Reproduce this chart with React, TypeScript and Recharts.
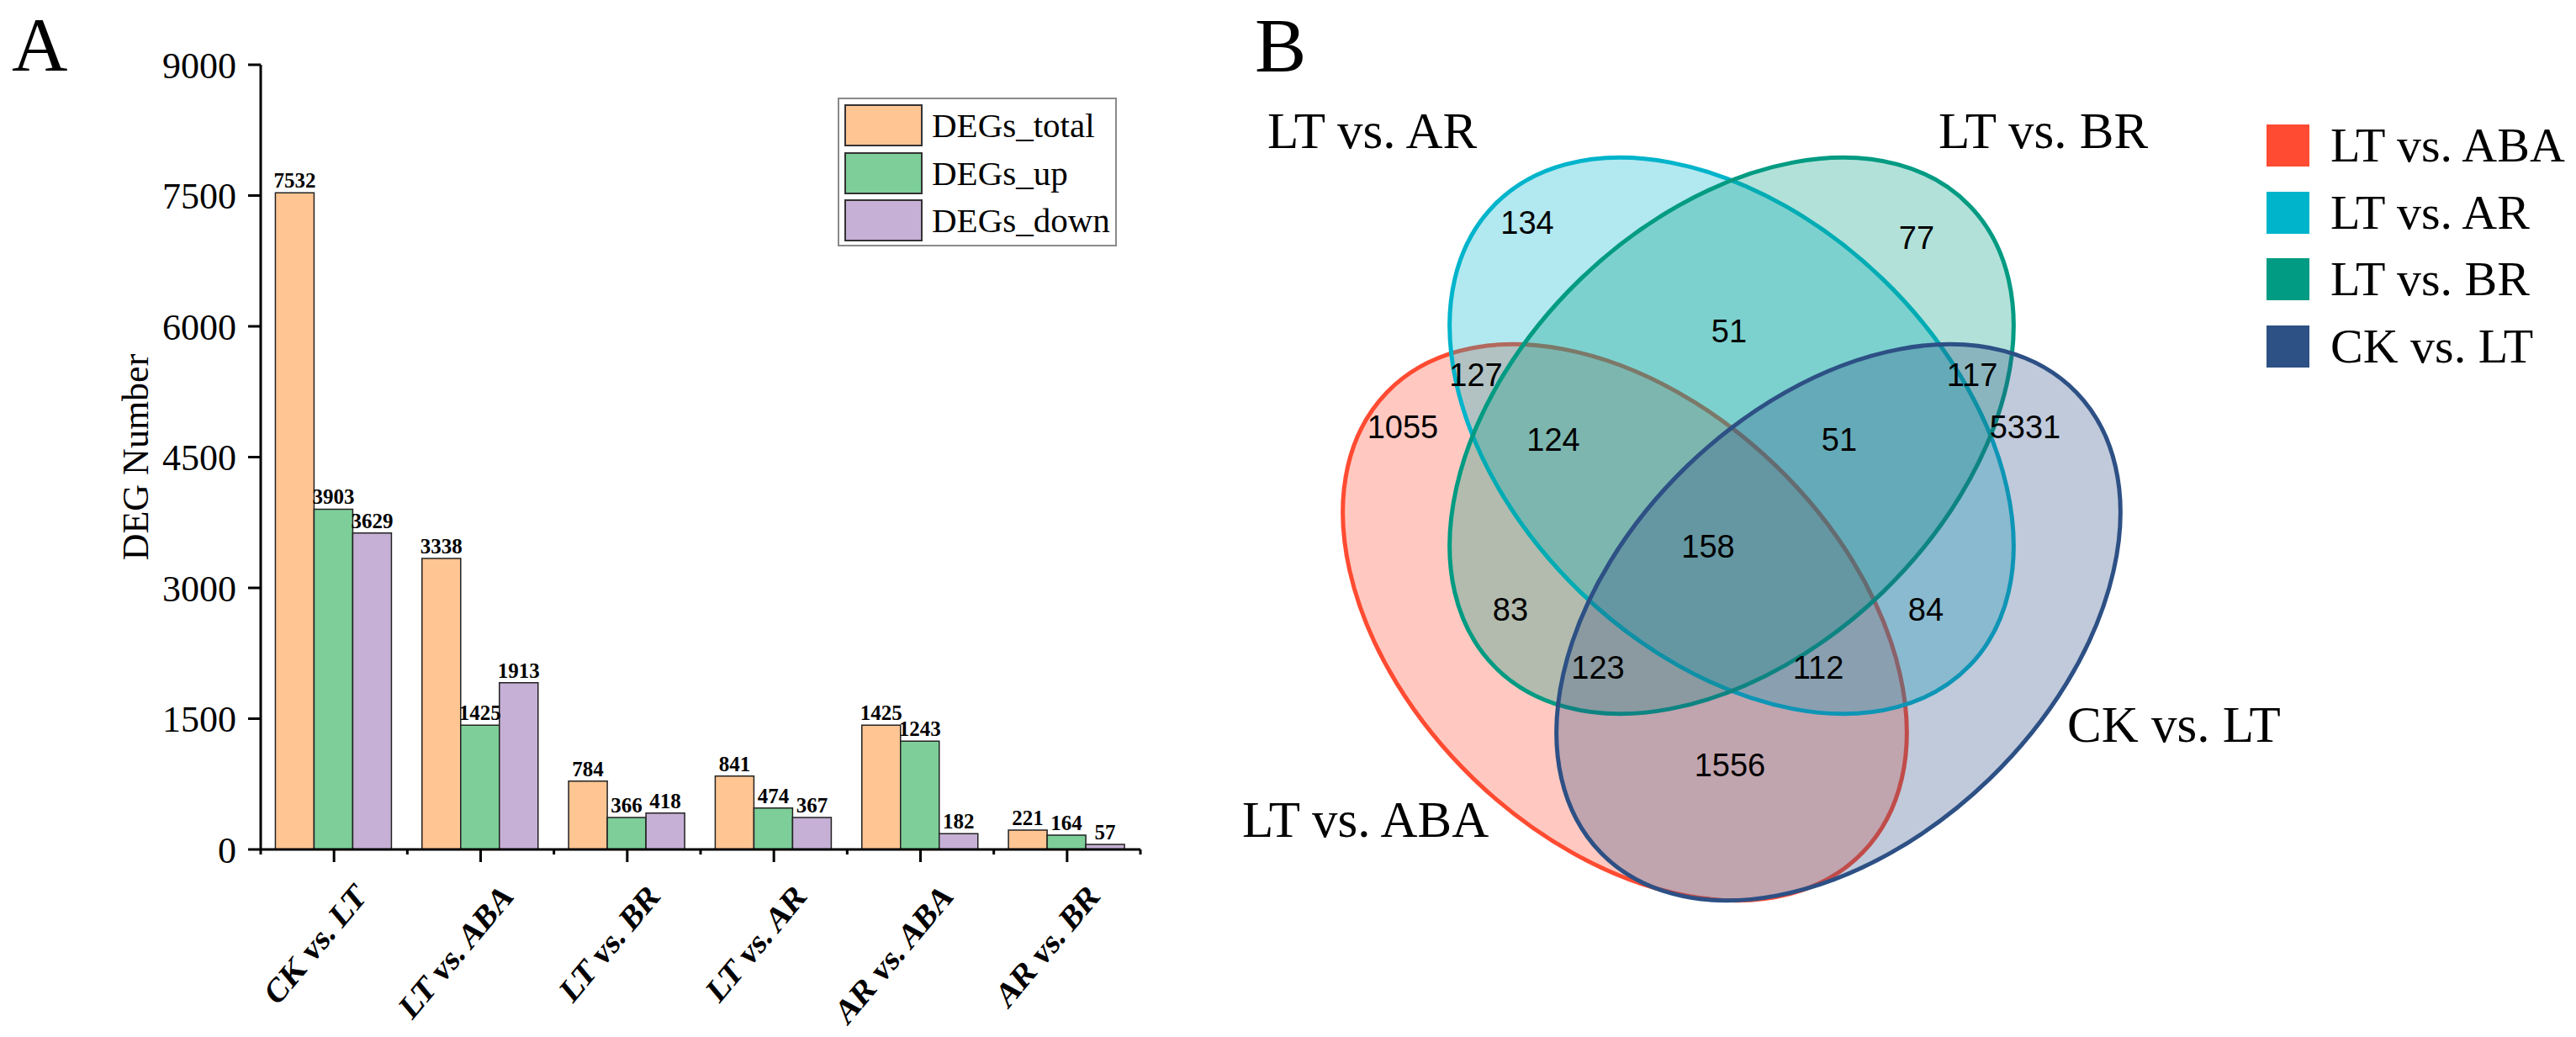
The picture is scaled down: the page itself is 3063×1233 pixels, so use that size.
import React from 'react';
import { BarChart, Bar, XAxis, YAxis, LabelList, Legend, ScatterChart, Scatter } from 'recharts';

// ---------- Panel A data ----------
const categories = ['CK vs. LT', 'LT vs. ABA', 'LT vs. BR', 'LT vs. AR', 'AR vs. ABA', 'AR vs. BR'];
const degsTotal = [7532, 3338, 784, 841, 1425, 221];
const degsUp = [3903, 1425, 366, 474, 1243, 164];
const degsDown = [3629, 1913, 418, 367, 182, 57];
const yTicks = [0, 1500, 3000, 4500, 6000, 7500, 9000];
const seriesNames = ['DEGs_total', 'DEGs_up', 'DEGs_down'];

// ---------- Panel B data ----------
const vennSetNames = ['LT vs. ABA', 'LT vs. AR', 'LT vs. BR', 'CK vs. LT'];
// ellipse layout, in layout units (y up)
const vennCenterX = [53.2, 65.9, 65.9, 78.6];
const vennCenterY = [47.6, 69.8, 69.8, 47.6];
const vennAngle = [-44, -44, 44, 44];
const vennSemiMajor = [39.35, 39.35, 39.35, 39.35];
const vennSemiMinor = [25.87, 25.87, 25.87, 25.87];
const vennLabelX = [7.7, 10.7, 90.5, 105.8];
const vennLabelY = [22.1, 104.0, 104.0, 33.4];
const vennCounts = [134, 77, 51, 127, 117, 1055, 124, 51, 5331, 158, 83, 84, 123, 112, 1556];
const vennCountX = [41.6, 87.9, 65.6, 35.5, 94.5, 26.8, 44.7, 78.7, 100.8, 63.1, 39.6, 89.0, 50.0, 76.2, 65.7];
const vennCountY = [95.1, 93.3, 82.2, 77.0, 77.0, 70.8, 69.3, 69.3, 70.8, 56.6, 49.1, 49.1, 42.2, 42.2, 30.6];

// ---------- styles ----------
const SERIF = '"Liberation Serif", "Times New Roman", Times, serif';
const SANS = '"Liberation Sans", Arial, Helvetica, sans-serif';
const BAR_COLORS = ['#FFC593', '#7DCE98', '#C6B0D5'];
const VENN_COLORS = ['#FF4B32', '#00B4CB', '#009B82', '#2D5085'];

const barData = categories.map((cat, i) => ({
  cat,
  total: degsTotal[i],
  up: degsUp[i],
  down: degsDown[i],
}));
const barKeys = ['total', 'up', 'down'];

const vennSetData = vennSetNames.map((name, i) => ({
  name,
  x: vennCenterX[i],
  y: vennCenterY[i],
  a: vennSemiMajor[i],
  b: vennSemiMinor[i],
  angle: vennAngle[i],
}));
const vennLabelData = vennSetNames.map((name, i) => ({ name, x: vennLabelX[i], y: vennLabelY[i] }));
const vennCountData = vennCounts.map((n, i) => ({ n, x: vennCountX[i], y: vennCountY[i] }));

const orderBy = (payload: any[], order: string[]) =>
  (payload || [])
    .filter((p: any) => p.type !== 'none' && order.indexOf(p.value) >= 0)
    .slice()
    .sort((a: any, b: any) => order.indexOf(a.value) - order.indexOf(b.value));

// ---------- Panel A layout ----------
const A_W = 1400;
const A_H = 1233;
const A_MARGIN = { top: 77, right: 44, bottom: 73, left: 0 };
const Y_AXIS_W = 310;
const X_AXIS_H = 150;
const X_TICK_SIZE = 15;
const BAND_HALF = (A_W - A_MARGIN.left - A_MARGIN.right - Y_AXIS_W) / categories.length / 2;

const CategoryTick = (props: any) => {
  const { x, y, payload, index } = props;
  const axisY = y - X_TICK_SIZE;
  const isLast = index === categories.length - 1;
  return (
    <g>
      <line x1={x - BAND_HALF} x2={x - BAND_HALF} y1={axisY} y2={axisY + 6} stroke="#000" strokeWidth={3} />
      {isLast && (
        <line x1={x + BAND_HALF} x2={x + BAND_HALF} y1={axisY} y2={axisY + 6} stroke="#000" strokeWidth={3} />
      )}
      <text
        transform={`translate(${x + 40},${axisY + 58}) scale(1,1.2) rotate(-45)`}
        textAnchor="end"
        fontFamily={SERIF}
        fontWeight="bold"
        fontSize={35}
        fill="#000"
      >
        {payload.value}
      </text>
    </g>
  );
};

const YTitle = (props: any) => {
  const vb = props.viewBox || { x: 0, y: A_MARGIN.top, width: Y_AXIS_W, height: A_H - A_MARGIN.top - A_MARGIN.bottom - X_AXIS_H };
  const tx = vb.x + 176;
  const ty = vb.y + vb.height / 2;
  return (
    <text x={tx} y={ty} transform={`rotate(-90 ${tx} ${ty})`} textAnchor="middle" fontFamily={SERIF} fontSize={44} fill="#000">
      DEG Number
    </text>
  );
};

const BarLegend = (props: any) => {
  const payload = orderBy(props.payload, seriesNames);
  return (
    <div
      style={{
        boxSizing: 'border-box',
        width: 332,
        border: '2px solid #8a8a8a',
        background: '#fff',
        padding: '6px 6px 4px 6px',
      }}
    >
      {payload.map((p: any, i: number) => (
        <div
          key={i}
          style={{ display: 'flex', alignItems: 'center', height: 50, marginBottom: i < payload.length - 1 ? 6.5 : 0 }}
        >
          <div style={{ boxSizing: 'border-box', width: 93, height: 50, background: p.color, border: '2px solid #333' }} />
          <span style={{ marginLeft: 11, fontFamily: SERIF, fontSize: 41, lineHeight: '50px', color: '#000', whiteSpace: 'nowrap' }}>
            {p.value}
          </span>
        </div>
      ))}
    </div>
  );
};

// ---------- Panel B layout ----------
const B_LEFT = 1400;
const B_W = 1663;
const B_H = 1233;
const B_MARGIN = { top: 16, right: 63, bottom: 17, left: 0 };
const B_X_DOMAIN = [0, 160];
const B_Y_DOMAIN = [0, 120];
const PX = (B_W - B_MARGIN.left - B_MARGIN.right) / (B_X_DOMAIN[1] - B_X_DOMAIN[0]);

const makeEllipse = (color: string) => (props: any) => {
  const { cx, cy, payload } = props;
  return (
    <ellipse
      cx={cx}
      cy={cy}
      rx={payload.a * PX}
      ry={payload.b * PX}
      transform={`rotate(${-payload.angle} ${cx} ${cy})`}
      fill={color}
      fillOpacity={0.3}
      stroke={color}
      strokeWidth={5}
    />
  );
};

const CountLabel = (props: any) => {
  const { cx, cy, payload } = props;
  return (
    <text x={cx} y={cy} textAnchor="middle" dominantBaseline="central" fontFamily={SANS} fontSize={38} fill="#000">
      {payload.n}
    </text>
  );
};

const SetLabel = (props: any) => {
  const { cx, cy, payload } = props;
  return (
    <text x={cx} y={cy} textAnchor="start" fontFamily={SERIF} fontSize={61} fill="#000">
      {payload.name}
    </text>
  );
};

const VennLegend = (props: any) => {
  const payload = orderBy(props.payload, vennSetNames);
  return (
    <div>
      {payload.map((p: any, i: number) => (
        <div key={i} style={{ display: 'flex', alignItems: 'center', height: 50, marginBottom: 29.5 }}>
          <div style={{ width: 51, height: 50, background: p.color }} />
          <span style={{ marginLeft: 25, fontFamily: SERIF, fontSize: 58, lineHeight: '50px', color: '#000', whiteSpace: 'nowrap' }}>
            {p.value}
          </span>
        </div>
      ))}
    </div>
  );
};

export default function App() {
  return (
    <div style={{ position: 'relative', width: 3063, height: 1233, background: '#fff', overflow: 'hidden' }}>
      <style>{`body{margin:0;background:#fff;}`}</style>

      <div style={{ position: 'absolute', left: 0, top: 0 }}>
        <BarChart width={A_W} height={A_H} data={barData} margin={A_MARGIN} barCategoryGap="10%" barGap={0}>
          <XAxis
            dataKey="cat"
            height={X_AXIS_H}
            interval={0}
            tickSize={X_TICK_SIZE}
            tickMargin={0}
            axisLine={{ stroke: '#000', strokeWidth: 3 }}
            tickLine={{ stroke: '#000', strokeWidth: 3 }}
            tick={<CategoryTick />}
          />
          <YAxis
            width={Y_AXIS_W}
            domain={[0, 9000]}
            ticks={yTicks}
            interval={0}
            allowDataOverflow
            tickSize={15}
            tickMargin={14}
            axisLine={{ stroke: '#000', strokeWidth: 3 }}
            tickLine={{ stroke: '#000', strokeWidth: 3 }}
            tick={{ fontFamily: SERIF, fontSize: 44, fill: '#000' }}
            label={(p: any) => <YTitle {...p} />}
          />
          <Legend
            layout="vertical"
            align="center"
            verticalAlign="middle"
            itemSorter={null as any}
            wrapperStyle={{ left: 996, top: 116, width: 'auto', height: 'auto' }}
            content={(p: any) => <BarLegend {...p} />}
          />
          {barKeys.map((k, i) => (
            <Bar
              key={k}
              dataKey={k}
              name={seriesNames[i]}
              fill={BAR_COLORS[i]}
              stroke="#222"
              strokeWidth={1.5}
              isAnimationActive={false}
            >
              <LabelList
                dataKey={k}
                position="top"
                offset={6}
                fontFamily={SERIF}
                fontWeight="bold"
                fontSize={25}
                fill="#000"
              />
            </Bar>
          ))}
        </BarChart>
      </div>

      <div style={{ position: 'absolute', left: B_LEFT, top: 0 }}>
        <ScatterChart width={B_W} height={B_H} margin={B_MARGIN}>
          <XAxis type="number" dataKey="x" domain={B_X_DOMAIN} allowDataOverflow hide />
          <YAxis type="number" dataKey="y" domain={B_Y_DOMAIN} allowDataOverflow hide />
          <Legend
            layout="vertical"
            align="center"
            verticalAlign="middle"
            itemSorter={null as any}
            wrapperStyle={{ left: 1295, top: 148, width: 'auto', height: 'auto' }}
            content={(p: any) => <VennLegend {...p} />}
          />
          {vennSetData.map((s, i) => (
            <Scatter
              key={s.name}
              name={s.name}
              data={[s]}
              fill={VENN_COLORS[i]}
              legendType="square"
              shape={makeEllipse(VENN_COLORS[i])}
              isAnimationActive={false}
            />
          ))}
          <Scatter name="counts" data={vennCountData} legendType="none" shape={<CountLabel />} isAnimationActive={false} />
          <Scatter name="labels" data={vennLabelData} legendType="none" shape={<SetLabel />} isAnimationActive={false} />
        </ScatterChart>
      </div>

      <svg width={3063} height={1233} style={{ position: 'absolute', left: 0, top: 0, pointerEvents: 'none' }}>
        <text x={14} y={84} fontFamily={SERIF} fontSize={92} fill="#000">A</text>
        <text x={1492} y={85} fontFamily={SERIF} fontSize={92} fill="#000">B</text>
      </svg>
    </div>
  );
}
